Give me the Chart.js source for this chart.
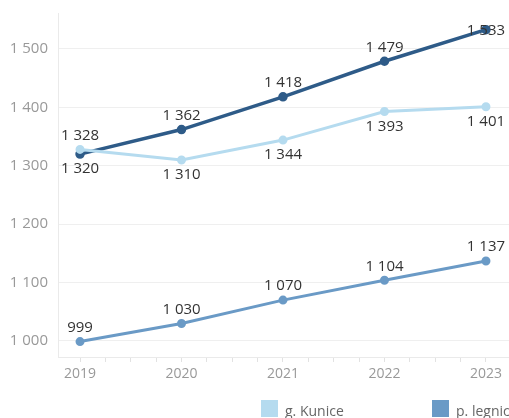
<!DOCTYPE html>
<html>
<head>
<meta charset="utf-8">
<script src="https://cdn.jsdelivr.net/npm/chart.js@4"></script>
<style>
  html, body { margin: 0; padding: 0; background: #fff; overflow: hidden; }
  body { width: 509px; height: 418px; position: relative; font-family: "Open Sans", sans-serif; }
  #myChart { position: absolute; left: 0; top: 0; }
  #legend { position: absolute; left: 261px; top: 400px; display: flex; white-space: nowrap; height: 18px; overflow: hidden; }
  .item { display: flex; align-items: flex-start; width: 171px; flex: none; }
  .box { width: 17px; height: 17px; margin-right: 7px; }
  .txt { font-size: 14px; color: #666; line-height: 17px; margin-top: 2px; }
</style>
</head>
<body>
<canvas id="myChart" width="509" height="418"></canvas>
<div id="legend"></div>
<script>
const years = [2019, 2020, 2021, 2022, 2023];
const seriesNames = ["g. Kunice", "p. legnicki", "woj. dolnośląskie"];
const kunice = [1328, 1310, 1344, 1393, 1401];
const legnicki = [999, 1030, 1070, 1104, 1137];
const wojewodztwo = [1320, 1362, 1418, 1479, 1533];
const yTicks = [1000, 1100, 1200, 1300, 1400, 1500];
const colors = ["#b5dbef", "#6a9ac6", "#2e5b88"];

function fmt(v) {
  return String(v).replace(/\B(?=(\d{3})+(?!\d))/g, " ");
}

const ctx = document.getElementById("myChart");

// legend drawn as html, clipped on the right like the reference
const legend = document.getElementById("legend");
seriesNames.forEach((name, i) => {
  const item = document.createElement("div");
  item.className = "item";
  item.innerHTML = '<div class="box" style="background:' + colors[i] + '"></div><div class="txt">' + name + "</div>";
  legend.appendChild(item);
});

const valueLabels = {
  id: "valueLabels",
  afterDatasetsDraw(chart) {
    const c = chart.ctx;
    const area = chart.chartArea;
    c.save();
    c.font = "15px 'Open Sans', sans-serif";
    c.fillStyle = "#333";
    c.textAlign = "center";
    c.textBaseline = "middle";
    chart.data.datasets.forEach((ds, di) => {
      const meta = chart.getDatasetMeta(di);
      meta.data.forEach((pt, i) => {
        const v = ds.data[i].y;
        // label goes above when this is the highest of the close pair, else below
        let above = true;
        if (di === 0) above = v > wojewodztwo[i];
        if (di === 2) above = v > kunice[i];
        let y = above ? pt.y - 14 : pt.y + 15;
        if (y - 7 < area.top + 5) y = pt.y + 1;
        const w = c.measureText(fmt(v)).width;
        let x = pt.x;
        if (x + w / 2 > chart.width - 2) x = chart.width - 2 - w / 2;
        c.fillText(fmt(v), x, y);
      });
    });
    c.restore();
  },
};

function toPoints(arr) {
  return arr.map((v, i) => ({ x: years[i], y: v }));
}

new Chart(ctx, {
  type: "line",
  data: {
    datasets: [
      { label: seriesNames[0], data: toPoints(kunice), borderColor: colors[0], backgroundColor: colors[0], borderWidth: 3 },
      { label: seriesNames[1], data: toPoints(legnicki), borderColor: colors[1], backgroundColor: colors[1], borderWidth: 3 },
      { label: seriesNames[2], data: toPoints(wojewodztwo), borderColor: colors[2], backgroundColor: colors[2], borderWidth: 3.5 },
    ],
  },
  plugins: [valueLabels],
  options: {
    responsive: false,
    animation: false,
    layout: { autoPadding: false, padding: { top: 13, right: 0, left: 0, bottom: 0 } },
    elements: {
      point: { radius: 3, hoverRadius: 3 },
      line: { tension: 0 },
    },
    plugins: {
      legend: { display: false },
      tooltip: { enabled: false },
    },
    scales: {
      x: {
        type: "linear",
        min: 2018.783,
        max: 2023.227,
        afterBuildTicks: (axis) => {
          const t = [];
          for (let v = 2019; v <= 2023.01; v += 0.25) t.push({ value: v });
          axis.ticks = t;
        },
        afterFit: (axis) => {
          axis.height = 61;
          axis.paddingLeft = 0;
          axis.paddingRight = 0;
        },
        ticks: {
          autoSkip: false,
          maxRotation: 0,
          padding: 4,
          color: "#999",
          font: { family: "'Open Sans', sans-serif", size: 14 },
          callback: (v) => (Number.isInteger(v) ? String(v) : ""),
        },
        grid: { drawOnChartArea: false, drawTicks: true, tickLength: 5, color: "#e2e2e2" },
        border: { display: true, color: "#eaeaea" },
      },
      y: {
        min: 972.6,
        max: 1561.6,
        afterBuildTicks: (axis) => {
          axis.ticks = yTicks.map((v) => ({ value: v }));
        },
        afterFit: (axis) => {
          axis.width = 58;
          axis.paddingTop = 0;
          axis.paddingBottom = 0;
        },
        ticks: {
          padding: 10,
          color: "#999",
          font: { family: "'Open Sans', sans-serif", size: 15 },
          callback: (v) => fmt(v),
        },
        grid: { color: "#efefef", drawTicks: false },
        border: { display: true, color: "#eaeaea" },
      },
    },
  },
});
</script>
</body>
</html>
